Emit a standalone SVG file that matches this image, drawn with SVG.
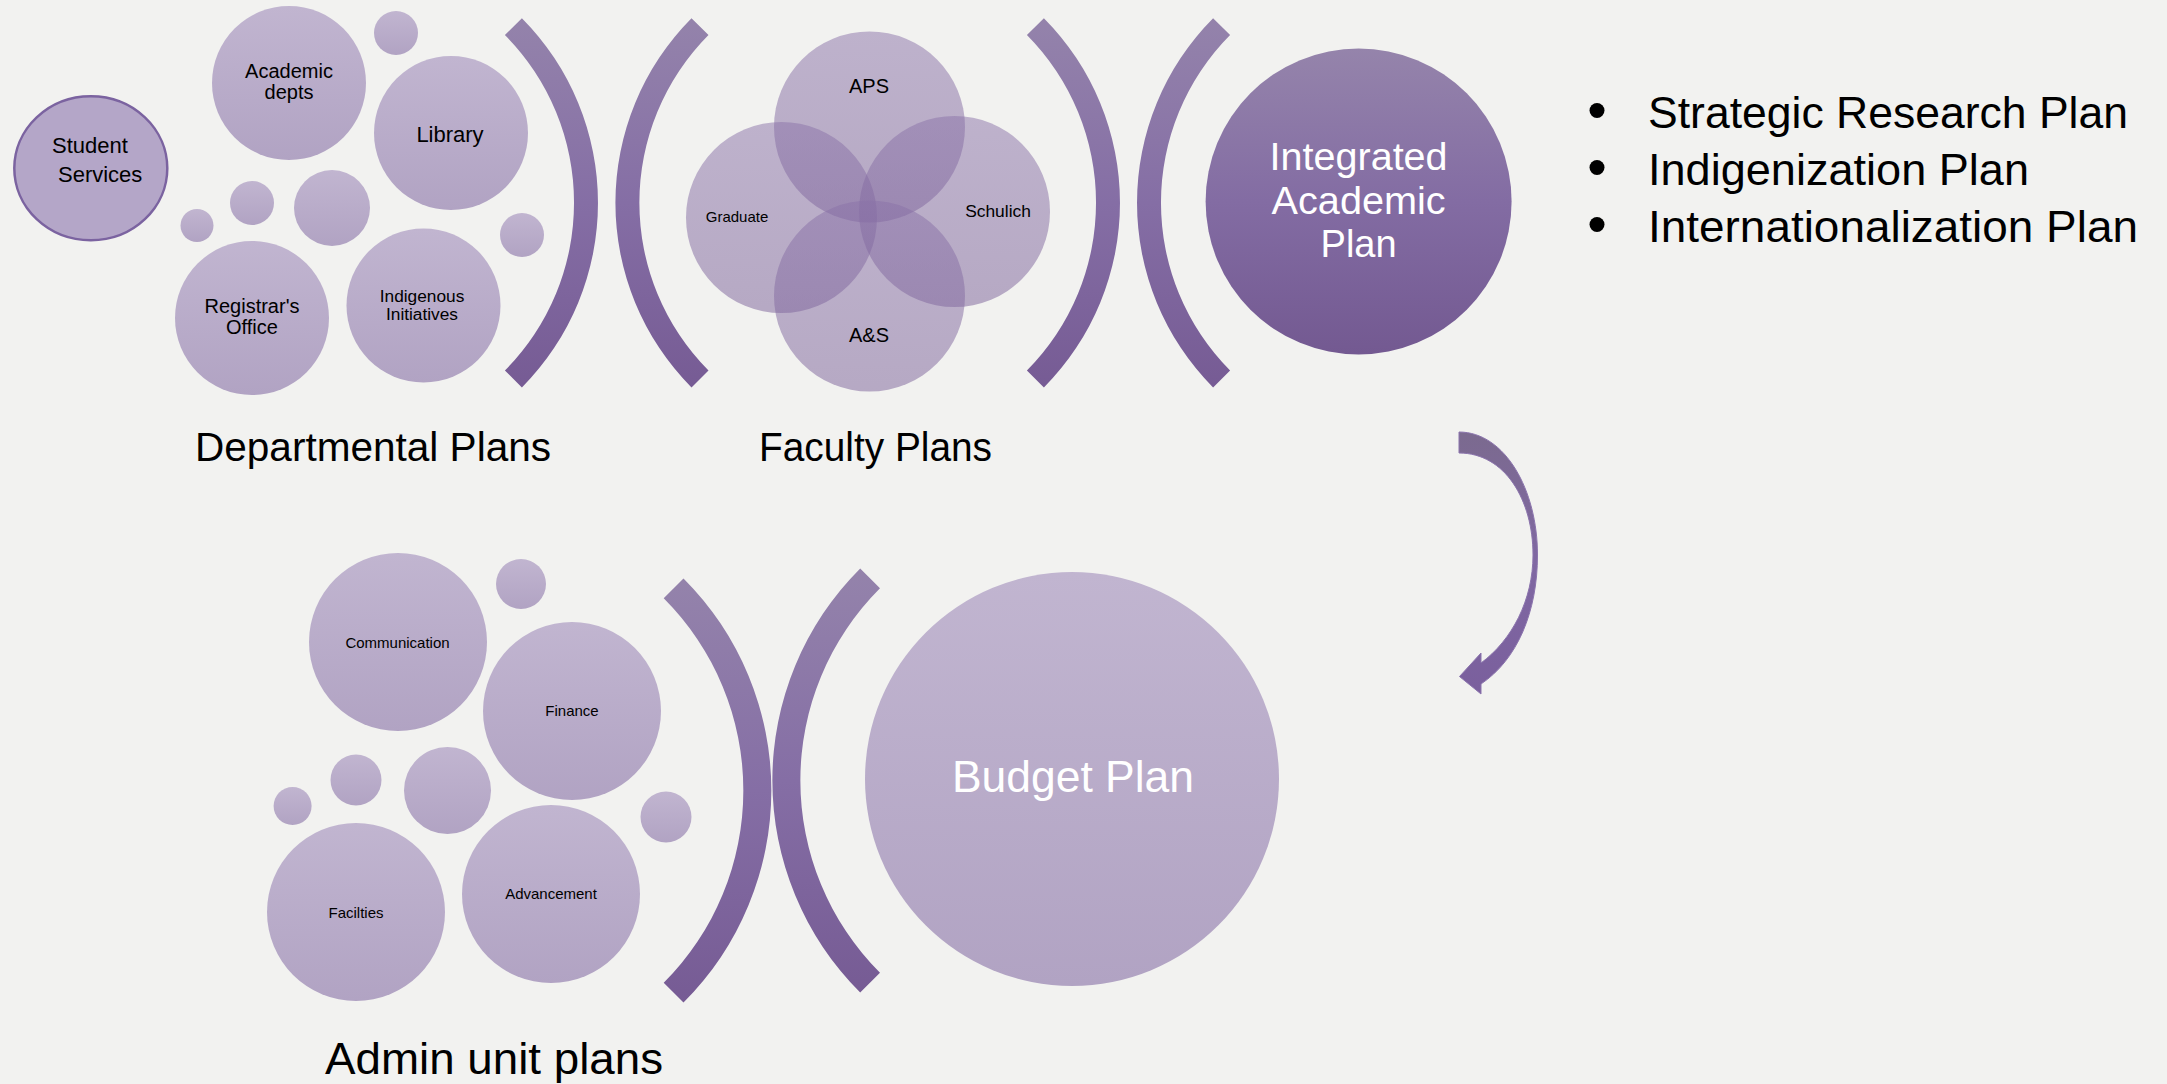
<svg xmlns="http://www.w3.org/2000/svg" width="2167" height="1084" viewBox="0 0 2167 1084">
<defs>
<linearGradient id="gBub" x1="0" y1="0" x2="0" y2="1"><stop offset="0" stop-color="#c1b5d0"/><stop offset="1" stop-color="#b1a3c3"/></linearGradient>
<linearGradient id="gVenn" x1="0" y1="0" x2="0" y2="1"><stop offset="0" stop-color="#8a72a8"/><stop offset="1" stop-color="#7a6098"/></linearGradient>
<linearGradient id="gDark" x1="0" y1="0" x2="0" y2="1"><stop offset="0" stop-color="#9584ab"/><stop offset="0.5" stop-color="#836ca3"/><stop offset="1" stop-color="#735991"/></linearGradient>
<linearGradient id="gBr" x1="0" y1="0" x2="0" y2="1"><stop offset="0" stop-color="#9483ab"/><stop offset="0.5" stop-color="#856ea5"/><stop offset="1" stop-color="#765b94"/></linearGradient>
<linearGradient id="gArr" x1="0" y1="0" x2="0" y2="1"><stop offset="0" stop-color="#7b6a8f"/><stop offset="0.5" stop-color="#8068a2"/><stop offset="1" stop-color="#7a5f9d"/></linearGradient>
<style>
.bub{fill:url(#gBub)}
.venn{fill:url(#gVenn);fill-opacity:0.5}
.br{fill:url(#gBr)}
text{font-family:"Liberation Sans",Arial,sans-serif;fill:#000}
.c{text-anchor:middle}
.w{fill:#fff}
</style>
</defs>
<rect width="2167" height="1084" fill="#f2f2f0"/>

<g id="brackets">
<path class="br" d="M521.9,18.2 A262,262 0 0 1 521.9,387.4 L504.9,370.5 A238,238 0 0 0 504.9,35.1 Z"/>
<path class="br" d="M691.5,18.2 A262,262 0 0 0 691.5,387.4 L708.5,370.5 A238,238 0 0 1 708.5,35.1 Z"/>
<path class="br" d="M1043.9,18.2 A262,262 0 0 1 1043.9,387.4 L1026.9,370.5 A238,238 0 0 0 1026.9,35.1 Z"/>
<path class="br" d="M1213.1,18.2 A262,262 0 0 0 1213.1,387.4 L1230.1,370.5 A238,238 0 0 1 1230.1,35.1 Z"/>
<path class="br" d="M683.5,578.4 A300,300 0 0 1 683.5,1002.6 L663.7,982.8 A272,272 0 0 0 663.7,598.2 Z"/>
<path class="br" d="M860.2,568.4 A300,300 0 0 0 860.2,992.6 L880,972.8 A272,272 0 0 1 880,588.2 Z"/>
</g>

<g id="student-services">
<ellipse cx="90.8" cy="168.3" rx="76.5" ry="72" fill="#b4a6c8" stroke="#7b63a0" stroke-width="2.5"/>
<text x="52" y="153" font-size="22">Student</text>
<text x="58" y="182" font-size="22">Services</text>
</g>
<g id="academic-depts">
<circle class="bub" cx="289" cy="83" r="77"/>
<text class="c" x="289" y="78" font-size="20">Academic</text>
<text class="c" x="289" y="99" font-size="20">depts</text>
</g>
<g id="library">
<circle class="bub" cx="451" cy="133" r="77"/>
<text class="c" x="450" y="142" font-size="22">Library</text>
</g>
<g id="registrars-office">
<circle class="bub" cx="252" cy="318" r="77"/>
<text class="c" x="252" y="313" font-size="20">Registrar's</text>
<text class="c" x="252" y="334" font-size="20">Office</text>
</g>
<g id="indigenous-initiatives">
<circle class="bub" cx="423.5" cy="305.5" r="77"/>
<text class="c" x="422" y="302" font-size="17.3">Indigenous</text>
<text class="c" x="422" y="320" font-size="17.3">Initiatives</text>
</g>
<g id="dept-small-bubbles">
<circle class="bub" cx="396" cy="33" r="22"/>
<circle class="bub" cx="197" cy="225.5" r="16.5"/>
<circle class="bub" cx="252" cy="203" r="22"/>
<circle class="bub" cx="332" cy="208" r="38"/>
<circle class="bub" cx="522" cy="235" r="22"/>
</g>
<g id="departmental-plans-label">
<text x="195" y="461" font-size="40" textLength="356" lengthAdjust="spacingAndGlyphs">Departmental Plans</text>
</g>

<g id="aps">
<circle class="venn" cx="869.5" cy="127" r="95.5"/>
</g>
<g id="graduate">
<circle class="venn" cx="781.5" cy="217.5" r="95.5"/>
</g>
<g id="schulich">
<circle class="venn" cx="954.5" cy="211.5" r="95.5"/>
</g>
<g id="as">
<circle class="venn" cx="869.5" cy="296" r="95.5"/>
</g>
<g id="faculty-labels">
<text class="c" x="869" y="93" font-size="20">APS</text>
<text class="c" x="737" y="222" font-size="15">Graduate</text>
<text class="c" x="998" y="217" font-size="17.4">Schulich</text>
<text class="c" x="869" y="342" font-size="20">A&amp;S</text>
</g>
<g id="faculty-plans-label">
<text x="759" y="461" font-size="40" textLength="233" lengthAdjust="spacingAndGlyphs">Faculty Plans</text>
</g>

<g id="integrated-academic-plan">
<circle cx="1358.6" cy="201.5" r="153" fill="url(#gDark)"/>
<text class="c w" x="1358.6" y="170" font-size="38" textLength="178" lengthAdjust="spacingAndGlyphs">Integrated</text>
<text class="c w" x="1358.6" y="214" font-size="38" textLength="174" lengthAdjust="spacingAndGlyphs">Academic</text>
<text class="c w" x="1358.6" y="257" font-size="38">Plan</text>
</g>

<g id="plan-list">
<circle cx="1597" cy="110.5" r="7.5" fill="#000"/>
<circle cx="1597" cy="167.5" r="7.5" fill="#000"/>
<circle cx="1597" cy="224.5" r="7.5" fill="#000"/>
<text x="1648" y="128" font-size="44" textLength="480" lengthAdjust="spacingAndGlyphs">Strategic Research Plan</text>
<text x="1648" y="185" font-size="44" textLength="381" lengthAdjust="spacingAndGlyphs">Indigenization Plan</text>
<text x="1648" y="242" font-size="44" textLength="490" lengthAdjust="spacingAndGlyphs">Internationalization Plan</text>
</g>

<g id="connectors">
<path d="M1459,432 C1505,432 1537.5,490 1537.5,555 C1537.5,612 1517,660 1481,684 L1481,694 L1459.5,676.5 L1481,653 L1481,663 C1512,640 1533,600 1533,555 C1533,500 1505,453 1459,453 Z" fill="url(#gArr)" stroke="#8b74ad" stroke-width="1"/>
</g>

<g id="communication">
<circle class="bub" cx="398" cy="642" r="89"/>
<text class="c" x="397.5" y="647.5" font-size="15">Communication</text>
</g>
<g id="finance">
<circle class="bub" cx="572" cy="711" r="89"/>
<text class="c" x="572" y="716" font-size="15">Finance</text>
</g>
<g id="facilties">
<circle class="bub" cx="356" cy="912" r="89"/>
<text class="c" x="356" y="917.5" font-size="15">Facilties</text>
</g>
<g id="advancement">
<circle class="bub" cx="551" cy="894" r="89"/>
<text class="c" x="551" y="899" font-size="15">Advancement</text>
</g>
<g id="admin-small-bubbles">
<circle class="bub" cx="521" cy="584" r="25"/>
<circle class="bub" cx="292.6" cy="806" r="19"/>
<circle class="bub" cx="356" cy="780" r="25.5"/>
<circle class="bub" cx="447.5" cy="790.5" r="43.5"/>
<circle class="bub" cx="666" cy="817" r="25.5"/>
</g>
<g id="admin-unit-plans-label">
<text x="325" y="1074" font-size="44" textLength="338" lengthAdjust="spacingAndGlyphs">Admin unit plans</text>
</g>

<g id="budget-plan">
<circle cx="1072" cy="779" r="207" fill="url(#gBub)"/>
<text class="c w" x="1073" y="792" font-size="44" textLength="242" lengthAdjust="spacingAndGlyphs">Budget Plan</text>
</g>
</svg>
